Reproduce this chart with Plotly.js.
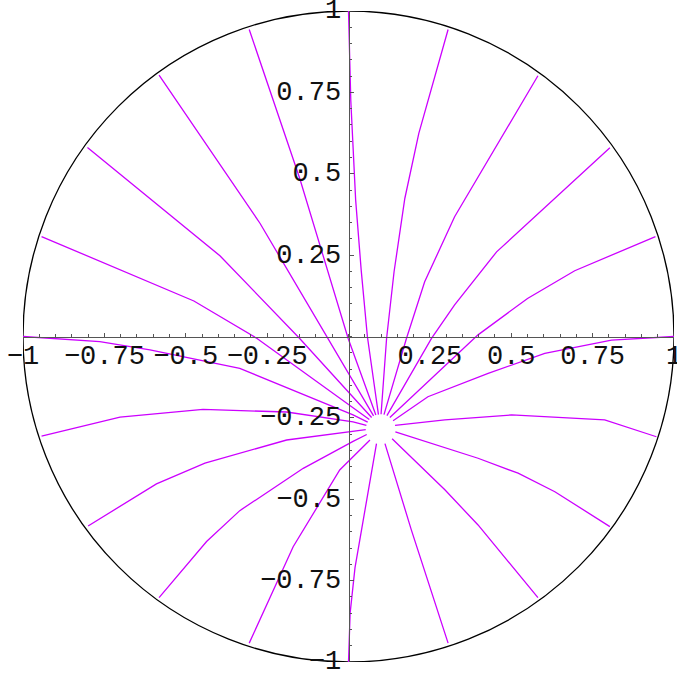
<!DOCTYPE html>
<html>
<head>
<meta charset="utf-8">
<script src="https://cdn.plot.ly/plotly-3.0.1.min.js"></script>
<style>html,body{margin:0;padding:0;background:#fff;}#chart{width:677px;height:675px;}</style>
</head>
<body>
<div id="chart"></div>
<script>
// Tick values / labels
const tickVals = [-1, -0.75, -0.5, -0.25, 0.25, 0.5, 0.75, 1];
const tickText = ["\u22121", "\u22120.75", "\u22120.5", "\u22120.25", "0.25", "0.5", "0.75", "1"];

// Unit disk radius
const diskRadius = 1;

// Curves, named by the boundary angle (degrees) they run to
const c000x = [0.137, 0.244, 0.429, 0.603, 0.808, 1.0];
const c000y = [-0.259, -0.185, -0.113, -0.052, -0.011, 0.0];
const c018x = [0.127, 0.398, 0.550, 0.695, 0.943];
const c018y = [-0.249, 0.005, 0.117, 0.202, 0.307];
const c036x = [0.118, 0.255, 0.326, 0.455, 0.803];
const c036y = [-0.243, -0.006, 0.097, 0.260, 0.580];
const c054x = [0.109, 0.178, 0.234, 0.326, 0.582];
const c054y = [-0.240, -0.006, 0.168, 0.368, 0.801];
const c072x = [0.100, 0.117, 0.140, 0.173, 0.216, 0.306];
const c072y = [-0.239, -0.006, 0.199, 0.424, 0.624, 0.943];
const c090x = [0.092, 0.058, 0.039, 0.022, 0.007, 0.0];
const c090y = [-0.240, 0.0, 0.204, 0.419, 0.726, 1.0];
const c108x = [0.084, -0.001, -0.150, -0.305];
const c108y = [-0.241, -0.006, 0.486, 0.943];
const c126x = [0.077, -0.063, -0.272, -0.582];
const c126y = [-0.244, -0.006, 0.348, 0.803];
const c144x = [0.071, -0.150, -0.395, -0.802];
const c144y = [-0.249, -0.006, 0.248, 0.581];
const c162x = [0.064, -0.281, -0.475, -0.943];
const c162y = [-0.255, -0.006, 0.109, 0.307];
const c180x = [0.059, 0.014, -0.334, -0.610, -0.764, -1.0];
const c180y = [-0.263, -0.241, -0.098, -0.041, -0.016, 0.0];
const c198x = [0.055, 0.014, -0.190, -0.447, -0.702, -0.943];
const c198y = [-0.273, -0.262, -0.232, -0.224, -0.248, -0.306];
const c216x = [0.053, 0.014, -0.190, -0.441, -0.590, -0.800];
const c216y = [-0.286, -0.291, -0.318, -0.389, -0.453, -0.582];
const c234x = [0.056, 0.014, -0.139, -0.334, -0.436, -0.582];
const c234y = [-0.301, -0.322, -0.405, -0.535, -0.630, -0.802];
const c252x = [0.066, -0.027, -0.170, -0.305];
const c252y = [-0.318, -0.410, -0.646, -0.942];
const c270x = [0.086, 0.045, 0.020, 0.005, 0.0];
const c270y = [-0.329, -0.560, -0.710, -0.850, -1.0];
const c288x = [0.112, 0.193, 0.306];
const c288y = [-0.329, -0.594, -0.942];
const c306x = [0.134, 0.296, 0.398, 0.582];
const c306y = [-0.314, -0.471, -0.579, -0.802];
const c324x = [0.144, 0.398, 0.521, 0.634, 0.803];
const c324y = [-0.293, -0.374, -0.420, -0.477, -0.584];
const c342x = [0.143, 0.296, 0.501, 0.787, 0.946];
const c342y = [-0.273, -0.256, -0.241, -0.256, -0.308];

const curves = [
  [c000x, c000y], [c018x, c018y], [c036x, c036y], [c054x, c054y], [c072x, c072y],
  [c090x, c090y], [c108x, c108y], [c126x, c126y], [c144x, c144y], [c162x, c162y],
  [c180x, c180y], [c198x, c198y], [c216x, c216y], [c234x, c234y], [c252x, c252y],
  [c270x, c270y], [c288x, c288y], [c306x, c306y], [c324x, c324y], [c342x, c342y]
];

const lineColor = '#CC00FF';
const traces = curves.map(([xs, ys]) => ({
  x: xs, y: ys, type: 'scatter', mode: 'lines',
  line: {color: lineColor, width: 1.3},
  hoverinfo: 'skip', showlegend: false
}));

const tickFont = {family: 'Liberation Mono, DejaVu Sans Mono, monospace', size: 27, color: '#111'};
const axisColor = '#555';

function axisCfg() {
  return {
    range: [-1, 1],
    anchor: 'free',
    position: 0.5,
    showline: true,
    linecolor: axisColor,
    linewidth: 1,
    showgrid: false,
    zeroline: false,
    tickmode: 'array',
    tickvals: tickVals,
    ticktext: tickText,
    ticks: 'inside',
    ticklen: 4,
    tickwidth: 1,
    tickcolor: axisColor,
    minor: {tickmode: 'linear', tick0: 0, dtick: 0.05, ticks: 'inside', ticklen: 2.5, tickwidth: 1, tickcolor: axisColor, showgrid: false},
    tickfont: tickFont,
    ticklabeloverflow: 'allow',
    fixedrange: true,
    layer: 'above traces'
  };
}

const xa = axisCfg();
xa.ticklabelstandoff = -6;
const ya = axisCfg();
ya.ticklabelstandoff = 2;
ya.ticklabelshift = -2;

const layout = {
  width: 677,
  height: 675,
  margin: {l: 23, r: 3, t: 11, b: 13},
  paper_bgcolor: '#fff',
  plot_bgcolor: '#fff',
  showlegend: false,
  xaxis: xa,
  yaxis: ya,
  shapes: [{
    type: 'circle', xref: 'x', yref: 'y',
    x0: -diskRadius, x1: diskRadius, y0: -diskRadius, y1: diskRadius,
    line: {color: '#000', width: 1.3}, layer: 'below'
  }]
};

Plotly.newPlot('chart', traces, layout, {staticPlot: true, displayModeBar: false});
</script>
</body>
</html>
